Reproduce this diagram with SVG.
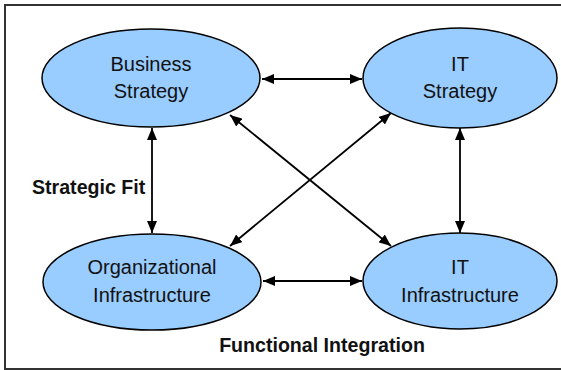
<svg xmlns="http://www.w3.org/2000/svg" width="561" height="370" viewBox="0 0 561 370">
  <defs>
    <marker id="head" viewBox="0 0 12 10" refX="12" refY="5" markerWidth="12" markerHeight="10" markerUnits="userSpaceOnUse" orient="auto-start-reverse">
      <path d="M0,0 L12,5 L0,10 Z" fill="#000"/>
    </marker>
  </defs>
  <style>
    .node ellipse { fill: #99CCFF; stroke: #000; stroke-width: 1.5; }
    .node text { font-family: "Liberation Sans", Arial, sans-serif; font-size: 20px; fill: #111; text-anchor: middle; }
    .conn line { stroke: #000; stroke-width: 1.8; marker-start: url(#head); marker-end: url(#head); }
    .label { font-family: "Liberation Sans", Arial, sans-serif; font-size: 19.6px; font-weight: bold; fill: #111; }
  </style>

  <rect x="5" y="5" width="560" height="364" fill="#fff" stroke="#333" stroke-width="2"/>

  <g id="connectors" class="conn">
    <line x1="262" y1="79" x2="362" y2="79"/>
    <line x1="263" y1="281" x2="362" y2="281"/>
    <line x1="152" y1="128" x2="152" y2="233"/>
    <line x1="460" y1="128" x2="460" y2="233"/>
    <line x1="230" y1="115" x2="391" y2="246"/>
    <line x1="391" y1="113" x2="230" y2="246"/>
  </g>

  <g id="business-strategy" class="node">
    <ellipse cx="151" cy="78" rx="109" ry="49"/>
    <text x="151" y="71">Business</text>
    <text x="151" y="98">Strategy</text>
  </g>

  <g id="it-strategy" class="node">
    <ellipse cx="460" cy="78" rx="97" ry="50"/>
    <text x="460" y="71">IT</text>
    <text x="460" y="98">Strategy</text>
  </g>

  <g id="organizational-infrastructure" class="node">
    <ellipse cx="152" cy="282" rx="109" ry="48"/>
    <text x="152" y="274">Organizational</text>
    <text x="152" y="302">Infrastructure</text>
  </g>

  <g id="it-infrastructure" class="node">
    <ellipse cx="460" cy="281" rx="97" ry="48"/>
    <text x="460" y="274">IT</text>
    <text x="460" y="302">Infrastructure</text>
  </g>

  <text class="label" x="32" y="194">Strategic Fit</text>
  <text class="label" x="322" y="352" text-anchor="middle">Functional Integration</text>
</svg>
